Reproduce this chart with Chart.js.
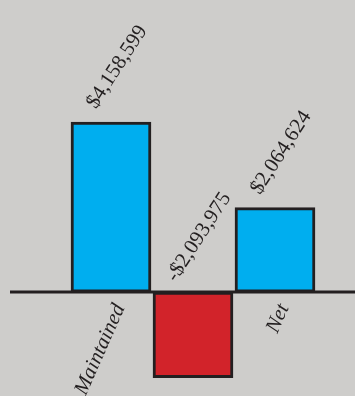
<!DOCTYPE html>
<html>
<head>
<meta charset="utf-8">
<script src="https://cdn.jsdelivr.net/npm/chart.js@4/dist/chart.umd.min.js"></script>
<style>
  html, body { margin: 0; padding: 0; background: #cecdcb; }
  canvas { display: block; }
</style>
</head>
<body>
<canvas id="chart" width="355" height="396"></canvas>
<script>
// data
const categories = ['Maintained', 'Lost', 'Net'];
const values = [4158599, -2093975, 2064624];

const INK = '#231f20';
const BLUE = '#00aeef';
const RED = '#d2232a';

function money(v) {
  return (v < 0 ? '-$' : '$') + Math.abs(v).toLocaleString('en-US');
}

// long zero line that runs past the plot area
const zeroLinePlugin = {
  id: 'zeroLine',
  afterDatasetsDraw(chart) {
    const ctx = chart.ctx;
    const y0 = chart.scales.y.getPixelForValue(0);
    ctx.save();
    ctx.strokeStyle = INK;
    ctx.lineWidth = 3;
    ctx.beginPath();
    ctx.moveTo(10, y0);
    ctx.lineTo(chart.width, y0);
    ctx.stroke();
    ctx.restore();
  }
};

// rotated dollar labels over each bar
const valueLabelPlugin = {
  id: 'valueLabels',
  afterDatasetsDraw(chart) {
    const ctx = chart.ctx;
    const meta = chart.getDatasetMeta(0);
    ctx.save();
    ctx.fillStyle = INK;
    ctx.font = '21px "Liberation Serif", serif';
    ctx.textAlign = 'center';
    ctx.textBaseline = 'middle';
    meta.data.forEach((bar, i) => {
      const top = Math.min(bar.y, bar.base);
      ctx.save();
      ctx.translate(bar.x + 6, top - 55);
      ctx.rotate(-57 * Math.PI / 180);
      ctx.fillText(money(values[i]), 0, 0);
      ctx.restore();
    });
    ctx.restore();
  }
};

new Chart(document.getElementById('chart').getContext('2d'), {
  type: 'bar',
  data: {
    labels: categories,
    datasets: [{
      data: values,
      backgroundColor: c => c.raw < 0 ? RED : BLUE,
      borderColor: INK,
      borderWidth: 3,
      borderSkipped: false,
      barThickness: 80
    }]
  },
  options: {
    responsive: false,
    animation: false,
    layout: { padding: { left: 70, right: 39, top: 0, bottom: 0 } },
    plugins: {
      legend: { display: false },
      tooltip: { enabled: false }
    },
    scales: {
      x: {
        position: { y: 0 },
        z: 1,
        grid: { display: false },
        border: { display: false },
        ticks: {
          autoSkip: false,
          minRotation: 66,
          maxRotation: 66,
          labelOffset: 9,
          padding: 0,
          color: INK,
          font: { family: '"Liberation Serif", serif', size: 21, style: 'italic' }
        }
      },
      y: {
        display: false,
        min: -2540000,
        max: 7140000
      }
    }
  },
  plugins: [zeroLinePlugin, valueLabelPlugin]
});
</script>
</body>
</html>
